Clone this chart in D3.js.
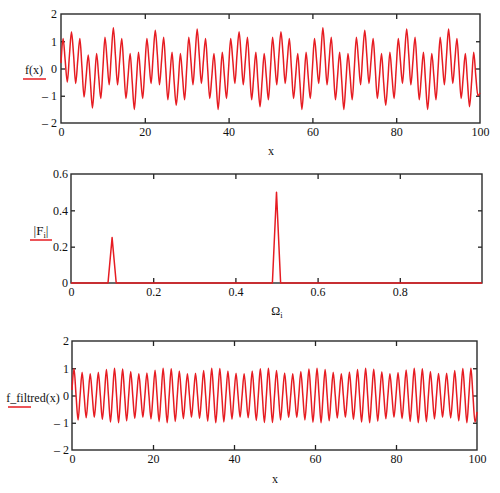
<!DOCTYPE html>
<html>
<head>
<meta charset="utf-8">
<script src="https://cdn.jsdelivr.net/npm/d3@7"></script>
<style>
  body { margin: 0; background: #fff; }
  svg { display: block; }
  text { font-family: "Liberation Serif", "DejaVu Serif", serif; fill: #111; }
</style>
</head>
<body>
<svg id="chart" width="500" height="493"></svg>
<script>
// sample spacing of the two time-domain traces (x = 0, 0.5, 1, ... 100)
const sampleStep = 0.5;

// f(x), one row per 10 units of x
const signalValues = [
  0.2, 1.1, 0.3, -0.5, 0.45, 1.35, 0.5, -0.55, 0.3, 1.1, 0.05, -1.05, -0.3, 0.5, -0.45, -1.45, -0.5, 0.55, -0.3, -1.1,
  0, 1.15, 0.3, -0.6, 0.5, 1.5, 0.45, -0.6, 0.3, 1.1, 0, -1.1, -0.3, 0.55, -0.5, -1.5, -0.45, 0.6, -0.3, -1.1,
  0, 1.1, 0.28, -0.55, 0.48, 1.4, 0.5, -0.6, 0.28, 1.15, 0, -1.15, -0.28, 0.6, -0.48, -1.35, -0.5, 0.55, -0.3, -1.15,
  0, 1.15, 0.3, -0.6, 0.45, 1.45, 0.48, -0.55, 0.3, 1.1, 0, -1.1, -0.3, 0.55, -0.45, -1.5, -0.48, 0.6, -0.28, -1.1,
  0, 1.1, 0.3, -0.55, 0.5, 1.35, 0.45, -0.6, 0.3, 1.15, 0, -1.15, -0.3, 0.6, -0.5, -1.4, -0.45, 0.55, -0.3, -1.15,
  0, 1.15, 0.28, -0.6, 0.48, 1.35, 0.5, -0.55, 0.28, 1.1, 0, -1.1, -0.28, 0.55, -0.48, -1.5, -0.5, 0.6, -0.3, -1.1,
  0, 1.1, 0.3, -0.55, 0.45, 1.5, 0.48, -0.6, 0.3, 1.15, 0, -1.15, -0.3, 0.6, -0.45, -1.5, -0.48, 0.55, -0.28, -1.15,
  0, 1.15, 0.3, -0.6, 0.5, 1.4, 0.45, -0.55, 0.3, 1.1, 0, -1.1, -0.3, 0.55, -0.5, -1.35, -0.45, 0.6, -0.3, -1.1,
  0, 1.1, 0.28, -0.55, 0.48, 1.45, 0.5, -0.6, 0.28, 1.15, 0, -1.15, -0.28, 0.6, -0.48, -1.5, -0.5, 0.55, -0.3, -1.15,
  0, 1.15, 0.3, -0.6, 0.45, 1.45, 0.48, -0.55, 0.3, 1.1, 0, -1.1, -0.3, 0.55, -0.45, -1.4, -0.48, 0.6, -0.28, -1.0,
  -0.9
];

// |F_i| against Omega_i (spectrum, zero everywhere except the two peaks)
const omegaValues = [0, 0.09, 0.1, 0.11, 0.49, 0.5, 0.51, 1.0];
const spectrumValues = [0, 0, 0.25, 0, 0, 0.5, 0, 0];

// f_filtred(x)
const filteredValues = [
  0.2, 0.98, 0, -0.9, 0, 0.85, 0, -0.82, 0, 0.8, 0, -0.8, 0, 0.85, 0, -0.88, 0, 0.95, 0, -0.97,
  0, 1.0, 0, -1.0, 0, 0.97, 0, -0.93, 0, 0.88, 0, -0.84, 0, 0.8, 0, -0.8, 0, 0.83, 0, -0.86,
  0, 0.93, 0, -0.96, 0, 1.0, 0, -1.0, 0, 0.98, 0, -0.95, 0, 0.9, 0, -0.85, 0, 0.8, 0, -0.8,
  0, 0.82, 0, -0.84, 0, 0.92, 0, -0.94, 0, 1.0, 0, -1.0, 0, 0.99, 0, -0.97, 0, 0.9, 0, -0.87,
  0, 0.82, 0, -0.8, 0, 0.8, 0, -0.82, 0, 0.9, 0, -0.92, 0, 0.98, 0, -0.99, 0, 1.0, 0, -0.99,
  0, 0.92, 0, -0.9, 0, 0.83, 0, -0.81, 0, 0.8, 0, -0.81, 0, 0.88, 0, -0.9, 0, 0.97, 0, -0.98,
  0, 1.0, 0, -1.0, 0, 0.95, 0, -0.93, 0, 0.85, 0, -0.83, 0, 0.8, 0, -0.8, 0, 0.86, 0, -0.88,
  0, 0.95, 0, -0.97, 0, 1.0, 0, -1.0, 0, 0.96, 0, -0.94, 0, 0.87, 0, -0.85, 0, 0.8, 0, -0.8,
  0, 0.84, 0, -0.85, 0, 0.94, 0, -0.95, 0, 1.0, 0, -1.0, 0, 0.98, 0, -0.96, 0, 0.88, 0, -0.86,
  0, 0.81, 0, -0.8, 0, 0.82, 0, -0.83, 0, 0.92, 0, -0.93, 0, 0.99, 0, -1.0, 0, 1.0, 0, -0.98,
  -0.6
];

// tick values
const timeTicksX = [0, 20, 40, 60, 80, 100];
const timeTicksY = [-2, -1, 0, 1, 2];
const freqTicksX = [0, 0.2, 0.4, 0.6, 0.8];
const freqTicksY = [0, 0.2, 0.4, 0.6];

const traceColor = "#e61c22";
const svg = d3.select("#chart");

const toPoints = (values) => values.map((v, i) => ({ x: i * sampleStep, y: v }));

// mathcad writes negatives as "– 1"
const fmtSigned = (d) => (d < 0 ? "\u2013 " + Math.abs(d) : String(d));

function drawPanel(cfg) {
  const x = d3.scaleLinear().domain(cfg.xDomain).range([cfg.left, cfg.right]);
  const y = d3.scaleLinear().domain(cfg.yDomain).range([cfg.bottom, cfg.top]);
  const g = svg.append("g");

  const innerX = cfg.xTicks.filter((d) => d > cfg.xDomain[0] && d < cfg.xDomain[1]);
  const innerY = cfg.yTicks.filter((d) => d > cfg.yDomain[0] && d < cfg.yDomain[1]);

  // inward tick marks on all four sides
  const tickMarks = [
    [d3.axisBottom(x).tickValues(innerX).tickSize(-5), `translate(0,${cfg.bottom})`],
    [d3.axisTop(x).tickValues(innerX).tickSize(-5), `translate(0,${cfg.top})`],
    [d3.axisLeft(y).tickValues(innerY).tickSize(-4), `translate(${cfg.left},0)`],
    [d3.axisRight(y).tickValues(innerY).tickSize(-4), `translate(${cfg.right},0)`],
  ];
  tickMarks.forEach(([axis, tr]) => {
    const a = g.append("g").attr("transform", tr).call(axis.tickFormat(""));
    a.select(".domain").remove();
    a.selectAll("line").attr("stroke", "#222").attr("stroke-width", 1.3);
  });

  // tick labels
  const xl = g.append("g")
    .attr("transform", `translate(0,${cfg.bottom})`)
    .call(d3.axisBottom(x).tickValues(cfg.xTicks).tickSize(0).tickPadding(4).tickFormat(cfg.xFormat));
  const yl = g.append("g")
    .attr("transform", `translate(${cfg.left},0)`)
    .call(d3.axisLeft(y).tickValues(cfg.yTicks).tickSize(0).tickPadding(cfg.yPad).tickFormat(cfg.yFormat));
  [xl, yl].forEach((a) => {
    a.select(".domain").remove();
    a.selectAll("text").style("font-family", "Liberation Serif, serif").style("font-size", "12px").attr("fill", "#111");
  });

  // frame
  g.append("rect")
    .attr("x", cfg.left).attr("y", cfg.top)
    .attr("width", cfg.right - cfg.left).attr("height", cfg.bottom - cfg.top)
    .attr("fill", "none").attr("stroke", "#2a2a2a").attr("stroke-width", 1.4);

  // trace
  g.append("path")
    .datum(cfg.points)
    .attr("fill", "none")
    .attr("stroke", traceColor)
    .attr("stroke-width", 1.5)
    .attr("stroke-linejoin", "round")
    .attr("d", d3.line().x((d) => x(d.x)).y((d) => y(d.y)).curve(cfg.curve));

  // x axis title
  const xt = g.append("text")
    .attr("x", cfg.xTitlePos[0]).attr("y", cfg.xTitlePos[1])
    .attr("text-anchor", "middle")
    .style("font-size", "12px");
  cfg.xTitle(xt);

  // y axis title with red trace key underline
  const yt = g.append("text")
    .attr("x", cfg.yTitlePos[0]).attr("y", cfg.yTitlePos[1])
    .attr("text-anchor", "middle")
    .style("font-size", cfg.yTitleSize || "12px");
  cfg.yTitle(yt);
  g.append("line")
    .attr("x1", cfg.keyLine[0]).attr("x2", cfg.keyLine[1])
    .attr("y1", cfg.keyLine[2]).attr("y2", cfg.keyLine[2])
    .attr("stroke", traceColor).attr("stroke-width", 1.5);
}

drawPanel({
  left: 61, right: 480, top: 14, bottom: 123,
  xDomain: [0, 100], yDomain: [-2, 2],
  xTicks: timeTicksX, yTicks: timeTicksY,
  xFormat: d3.format("d"), yFormat: fmtSigned, yPad: 4,
  points: toPoints(signalValues), curve: d3.curveMonotoneX,
  xTitlePos: [271, 155], xTitle: (t) => t.text("x"),
  yTitlePos: [34, 74], yTitle: (t) => t.text("f(x)"),
  keyLine: [23, 46, 79],
});

drawPanel({
  left: 71, right: 482, top: 174, bottom: 283,
  xDomain: [0, 1], yDomain: [0, 0.6],
  xTicks: freqTicksX, yTicks: freqTicksY,
  xFormat: (d) => String(d), yFormat: (d) => String(d), yPad: 3,
  points: omegaValues.map((o, i) => ({ x: o, y: spectrumValues[i] })), curve: d3.curveLinear,
  xTitlePos: [277, 315],
  xTitle: (t) => {
    t.append("tspan").text("\u03A9");
    t.append("tspan").attr("dy", 3).style("font-size", "8.5px").text("i");
  },
  yTitlePos: [41, 235], yTitleSize: "13px",
  yTitle: (t) => {
    t.append("tspan").text("|F");
    t.append("tspan").attr("dy", 3).style("font-size", "8.5px").text("i");
    t.append("tspan").attr("dy", -3).text("|");
  },
  keyLine: [30, 52, 240],
});

drawPanel({
  left: 72, right: 477, top: 341, bottom: 450,
  xDomain: [0, 100], yDomain: [-2, 2],
  xTicks: timeTicksX, yTicks: timeTicksY,
  xFormat: d3.format("d"), yFormat: fmtSigned, yPad: 3,
  points: toPoints(filteredValues), curve: d3.curveMonotoneX,
  xTitlePos: [275, 483], xTitle: (t) => t.text("x"),
  yTitlePos: [33, 402], yTitle: (t) => t.text("f_filtred(x)"),
  keyLine: [8, 31, 407],
});
</script>
</body>
</html>
